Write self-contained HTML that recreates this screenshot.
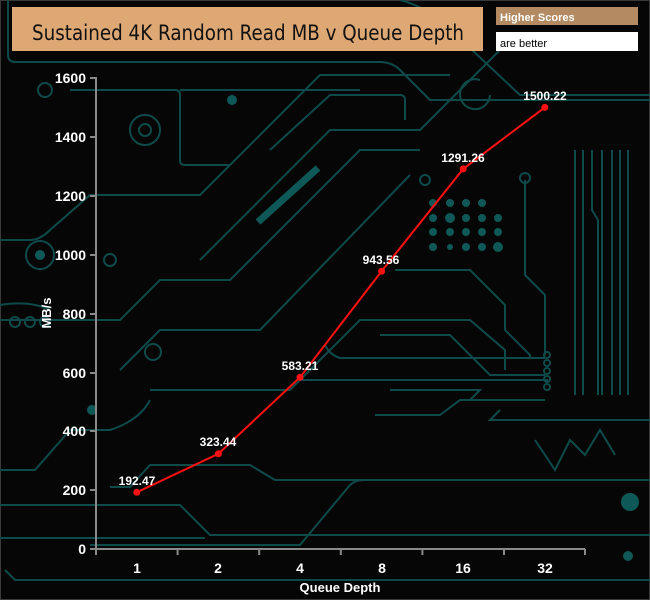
<!DOCTYPE html>
<html><head><meta charset="utf-8"><style>
html,body{margin:0;padding:0;background:#0a0a0a;}
svg{display:block;}
text{font-family:"Liberation Sans",Arial,sans-serif;}
</style></head><body>
<svg width="650" height="600" viewBox="0 0 650 600" xmlns="http://www.w3.org/2000/svg">
<rect x="0" y="0" width="650" height="600" fill="#060606"/>
<rect x="0.5" y="0.5" width="649" height="599" fill="none" stroke="#3a3a3a"/>
<g fill="none" stroke="#0f4a4a" stroke-width="2">
<path d="M8 0 V55 Q8 62 16 62 H380 Q392 62 400 70 L430 100 H650"/>
<path d="M400 0 Q420 5 440 20 L520 95 H650"/>
<path d="M70 90 H175 Q180 90 180 95 V160 Q180 165 185 165 H230"/>
<path d="M180 90 H360"/>
<path d="M270 150 L330 95 H400 Q405 95 405 100 V120"/>
<path d="M0 240 H30 Q40 240 50 230 L90 195 H200 L320 75 H450"/>
<path d="M200 260 L330 130 H420 L500 50 H520"/>
<path d="M0 320 H120 L160 280 H230 L360 150 H420"/>
<path d="M120 370 L160 330 H260 L410 175"/>
<path d="M150 390 H290 L360 320 H470 L505 350 V370"/>
<path d="M0 470 H35 L70 430 H110 Q140 420 150 400"/>
<path d="M110 487 H130 L150 465 H250 L275 480 H650"/>
<path d="M0 505 H180 L210 535 H650"/>
<path d="M0 538 H205"/>
<path d="M5 570 L15 580 H800"/>
<path d="M90 545 H300 L350 485 Q355 480 365 480 H600"/>
<path d="M395 270 H470 L505 305 V330 L530 355 V358"/>
<path d="M380 335 H450 L490 375 H545"/>
<path d="M325 345 Q330 355 340 358 H545"/>
<path d="M300 380 H548"/>
<path d="M390 390 H480 L470 400"/>
<path d="M525 180 V275 L545 295 V355"/>
<path d="M375 415 H440 L460 400 H545"/>
<path d="M500 410 L490 420 H650"/>
<path d="M575 150 V395 M583 150 V395 M592 150 V210 L598 220 V395 M602 150 V395 M612 150 V395 M620 150 V395 M628 150 V395"/>
<path d="M535 440 L555 470 L570 440 L585 455 L600 430 L615 455"/>
<circle cx="45" cy="90" r="7"/><circle cx="40" cy="255" r="14"/><circle cx="110" cy="260" r="6"/>
<circle cx="153" cy="352" r="8"/><circle cx="145" cy="130" r="15"/><circle cx="145" cy="130" r="6"/>
<circle cx="425" cy="180" r="5"/><circle cx="525" cy="178" r="5"/>
<circle cx="547" cy="355" r="3"/><circle cx="547" cy="363" r="3"/><circle cx="547" cy="371" r="3"/><circle cx="547" cy="379" r="3"/><circle cx="547" cy="387" r="3"/>
<path d="M0 305 Q30 300 50 310"/><circle cx="15" cy="322" r="5"/><circle cx="30" cy="322" r="5"/><circle cx="45" cy="322" r="5"/>
<path d="M480 80 A15 15 0 1 0 490 95"/>
</g>
<g fill="#0f5858">
<circle cx="433" cy="203" r="4"/><circle cx="450" cy="203" r="4"/><circle cx="466" cy="203" r="4"/><circle cx="482" cy="203" r="4"/>
<circle cx="433" cy="218" r="4"/><circle cx="450" cy="218" r="5"/><circle cx="466" cy="218" r="4"/><circle cx="482" cy="218" r="4"/><circle cx="498" cy="218" r="4"/>
<circle cx="433" cy="232" r="4"/><circle cx="450" cy="232" r="4"/><circle cx="466" cy="232" r="4"/><circle cx="482" cy="232" r="4"/><circle cx="498" cy="232" r="4"/>
<circle cx="433" cy="247" r="4"/><circle cx="450" cy="247" r="3"/><circle cx="466" cy="247" r="4"/><circle cx="482" cy="247" r="4"/><circle cx="498" cy="247" r="5"/>
<circle cx="40" cy="255" r="5"/><circle cx="630" cy="502" r="9"/><circle cx="628" cy="556" r="5"/><circle cx="92" cy="410" r="5"/>
<circle cx="232" cy="100" r="5"/>
</g>
<path d="M258 222 L318 168" stroke="#0f5858" stroke-width="7"/>
<!-- title boxes -->
<rect x="12" y="7" width="471" height="44" fill="#dea874"/>
<text x="248" y="40" font-size="21" text-anchor="middle" fill="#111" style="font-family:'DejaVu Sans','Liberation Sans',sans-serif" textLength="432" lengthAdjust="spacingAndGlyphs">Sustained 4K Random Read MB v Queue Depth</text>
<rect x="496" y="7" width="142" height="18" fill="#b38a62"/>
<text x="500" y="21" font-size="11" font-weight="bold" fill="#fff">Higher Scores</text>
<rect x="496" y="32" width="142" height="19" fill="#fff"/>
<text x="500" y="47" font-size="11" fill="#000">are better</text>
<!-- axes -->
<g stroke="#8a8a8a" stroke-width="2" fill="none">
<path d="M96 77 V549 H585"/>
<path d="M90 78 H96 M90 137 H96 M90 196 H96 M90 255 H96 M90 314 H96 M90 373 H96 M90 431 H96 M90 490 H96 M90 549 H96"/>
<path d="M96 549 V555 M177.6 549 V555 M259.2 549 V555 M340.8 549 V555 M422.4 549 V555 M504 549 V555 M585 549 V555"/>
</g>
<g fill="#fff" font-size="14" font-weight="bold" text-anchor="end">
<text x="86" y="83">1600</text><text x="86" y="142">1400</text><text x="86" y="201">1200</text><text x="86" y="260">1000</text>
<text x="86" y="319">800</text><text x="86" y="378">600</text><text x="86" y="436">400</text><text x="86" y="495">200</text><text x="86" y="554">0</text>
</g>
<g fill="#fff" font-size="14" font-weight="bold" text-anchor="middle">
<text x="137" y="573">1</text><text x="218" y="573">2</text><text x="300" y="573">4</text><text x="382" y="573">8</text><text x="463" y="573">16</text><text x="545" y="573">32</text>
<text x="340" y="592" font-size="13">Queue Depth</text>
<text transform="translate(51,313) rotate(-90)" font-size="13">MB/s</text>
</g>
<polyline points="136.8,492.3 218.4,453.8 300,377.3 381.6,271.2 463.2,168.9 544.8,107.4" fill="none" stroke="#ff1010" stroke-width="2"/>
<g fill="#ff1010">
<circle cx="136.8" cy="492.3" r="3.5"/><circle cx="218.4" cy="453.8" r="3.5"/><circle cx="300" cy="377.3" r="3.5"/>
<circle cx="381.6" cy="271.2" r="3.5"/><circle cx="463.2" cy="168.9" r="3.5"/><circle cx="544.8" cy="107.4" r="3.5"/>
</g>
<g fill="#fff" font-size="12" font-weight="bold" text-anchor="middle">
<text x="137" y="485">192.47</text><text x="218" y="446">323.44</text><text x="300" y="370">583.21</text>
<text x="381" y="264">943.56</text><text x="463" y="162">1291.26</text><text x="545" y="100">1500.22</text>
</g>
</svg>
</body></html>
